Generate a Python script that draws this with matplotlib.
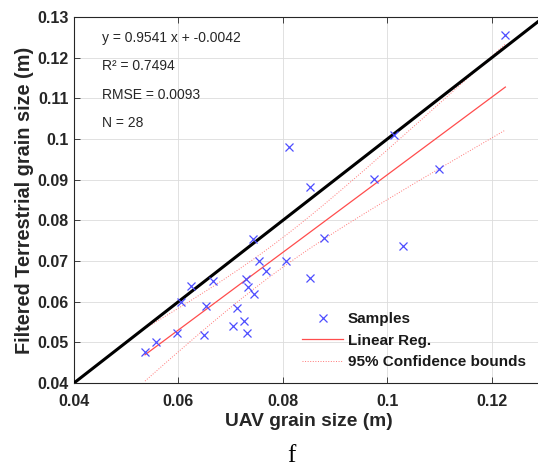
import numpy as np
import matplotlib
matplotlib.use("Agg")
import matplotlib.pyplot as plt

""" DONNEES """
# tailles de grains (m)
uav = [0.0536, 0.0557, 0.0598, 0.0604, 0.0624, 0.0648, 0.0653, 0.0667,
       0.0705, 0.0712, 0.0726, 0.0731, 0.0730, 0.0734, 0.0745, 0.0743,
       0.0754, 0.0768, 0.0806, 0.0852, 0.0852, 0.0811, 0.1226, 0.1012,
       0.0975, 0.1099, 0.0878, 0.1030]
terr = [0.0477, 0.0500, 0.0522, 0.0599, 0.0638, 0.0517, 0.0589, 0.0650,
        0.0541, 0.0585, 0.0552, 0.0524, 0.0656, 0.0636, 0.0618, 0.0755,
        0.0699, 0.0675, 0.0699, 0.0659, 0.0881, 0.0980, 0.1256, 0.1011,
        0.0902, 0.0926, 0.0756, 0.0738]

pente   = 0.9541
ordo    = -0.0042
r2      = 0.7494
rmse    = 0.0093
t_stud  = 2.056          # t(0.975, n-2)

xticks = [0.04, 0.06, 0.08, 0.1, 0.12]
yticks = [0.04, 0.05, 0.06, 0.07, 0.08, 0.09, 0.1, 0.11, 0.12, 0.13]

""" CALCULS """
x = np.array(uav)
y = np.array(terr)
n = len(x)
xbar = x.mean()
sxx = np.sum((x - xbar)**2)
xs = np.linspace(x.min(), x.max(), 200)
yfit = pente*xs + ordo
demi = t_stud*rmse*np.sqrt(1/n + (xs - xbar)**2/sxx)

""" TRACE """
plt.rcParams['font.family'] = ['Liberation Sans', 'DejaVu Sans']
gris = '#262626'

fig = plt.figure(figsize=(5.38, 4.68), dpi=100)
W, H = 538, 468
ax = fig.add_axes([74/W, 1 - 383/H, 470/W, 366/H])

ax.plot([0.04, 0.13], [0.04, 0.13], color='k', lw=2.2, zorder=3)
ax.plot(x, y, 'x', color='#4d4dff', ms=6, mew=0.9, label='Samples', zorder=4)
ax.plot(xs, yfit, '-', color='#ff4d4d', lw=0.9, label='Linear Reg.', zorder=2)
ax.plot(xs, yfit + demi, ':', color='#ff7777', lw=0.7,
        label='95% Confidence bounds', zorder=2)
ax.plot(xs, yfit - demi, ':', color='#ff7777', lw=0.7, zorder=2)

ax.set_xlim(0.04, 0.13)
ax.set_ylim(0.04, 0.13)
ax.set_xticks(xticks)
ax.set_xticklabels([('%g' % v) for v in xticks])
ax.set_yticks(yticks)
ax.set_yticklabels([('%g' % v) for v in yticks])
ax.grid(True, color='#dcdcdc', lw=0.6)
ax.set_axisbelow(True)
for s in ax.spines.values():
    s.set_color(gris)
    s.set_linewidth(0.8)
ax.tick_params(direction='in', length=4, width=0.6, color=gris,
               top=True, right=True, labelsize=11.5, labelcolor=gris)
ax.tick_params(axis='x', pad=8)
ax.tick_params(axis='y', pad=4)
for lab in ax.get_xticklabels() + ax.get_yticklabels():
    lab.set_fontweight('bold')

ax.set_xlabel('UAV grain size (m)', fontsize=13.8, fontweight='bold',
              color=gris, labelpad=3)
ax.set_ylabel('Filtered Terrestrial grain size (m)', fontsize=14.3,
              fontweight='bold', color=gris, labelpad=2)

# textes de la regression
lignes = ['y = %.4f x + %.4f' % (pente, ordo), 'R² = %.4f' % r2,
          'RMSE = %.4f' % rmse, 'N = %d' % n]
for i, txt in enumerate(lignes):
    fig.text(102/W, 1 - (38 + 28.3*i)/H, txt, fontsize=10, color=gris,
             va='center', ha='left')

leg = ax.legend(loc='upper left', bbox_to_anchor=(302/W, 1 - 312/H),
                bbox_transform=fig.transFigure, frameon=False,
                prop={'weight': 'bold', 'size': 11}, handlelength=2.7,
                handletextpad=0.3, labelspacing=0.5, borderpad=0,
                borderaxespad=0)
for t in leg.get_texts():
    t.set_color('#1a1a1a')

fig.text(291/W, 6/H, 'f', fontsize=18, family='Liberation Serif',
         ha='center', va='baseline')

fig.savefig('out.png', dpi=100)
